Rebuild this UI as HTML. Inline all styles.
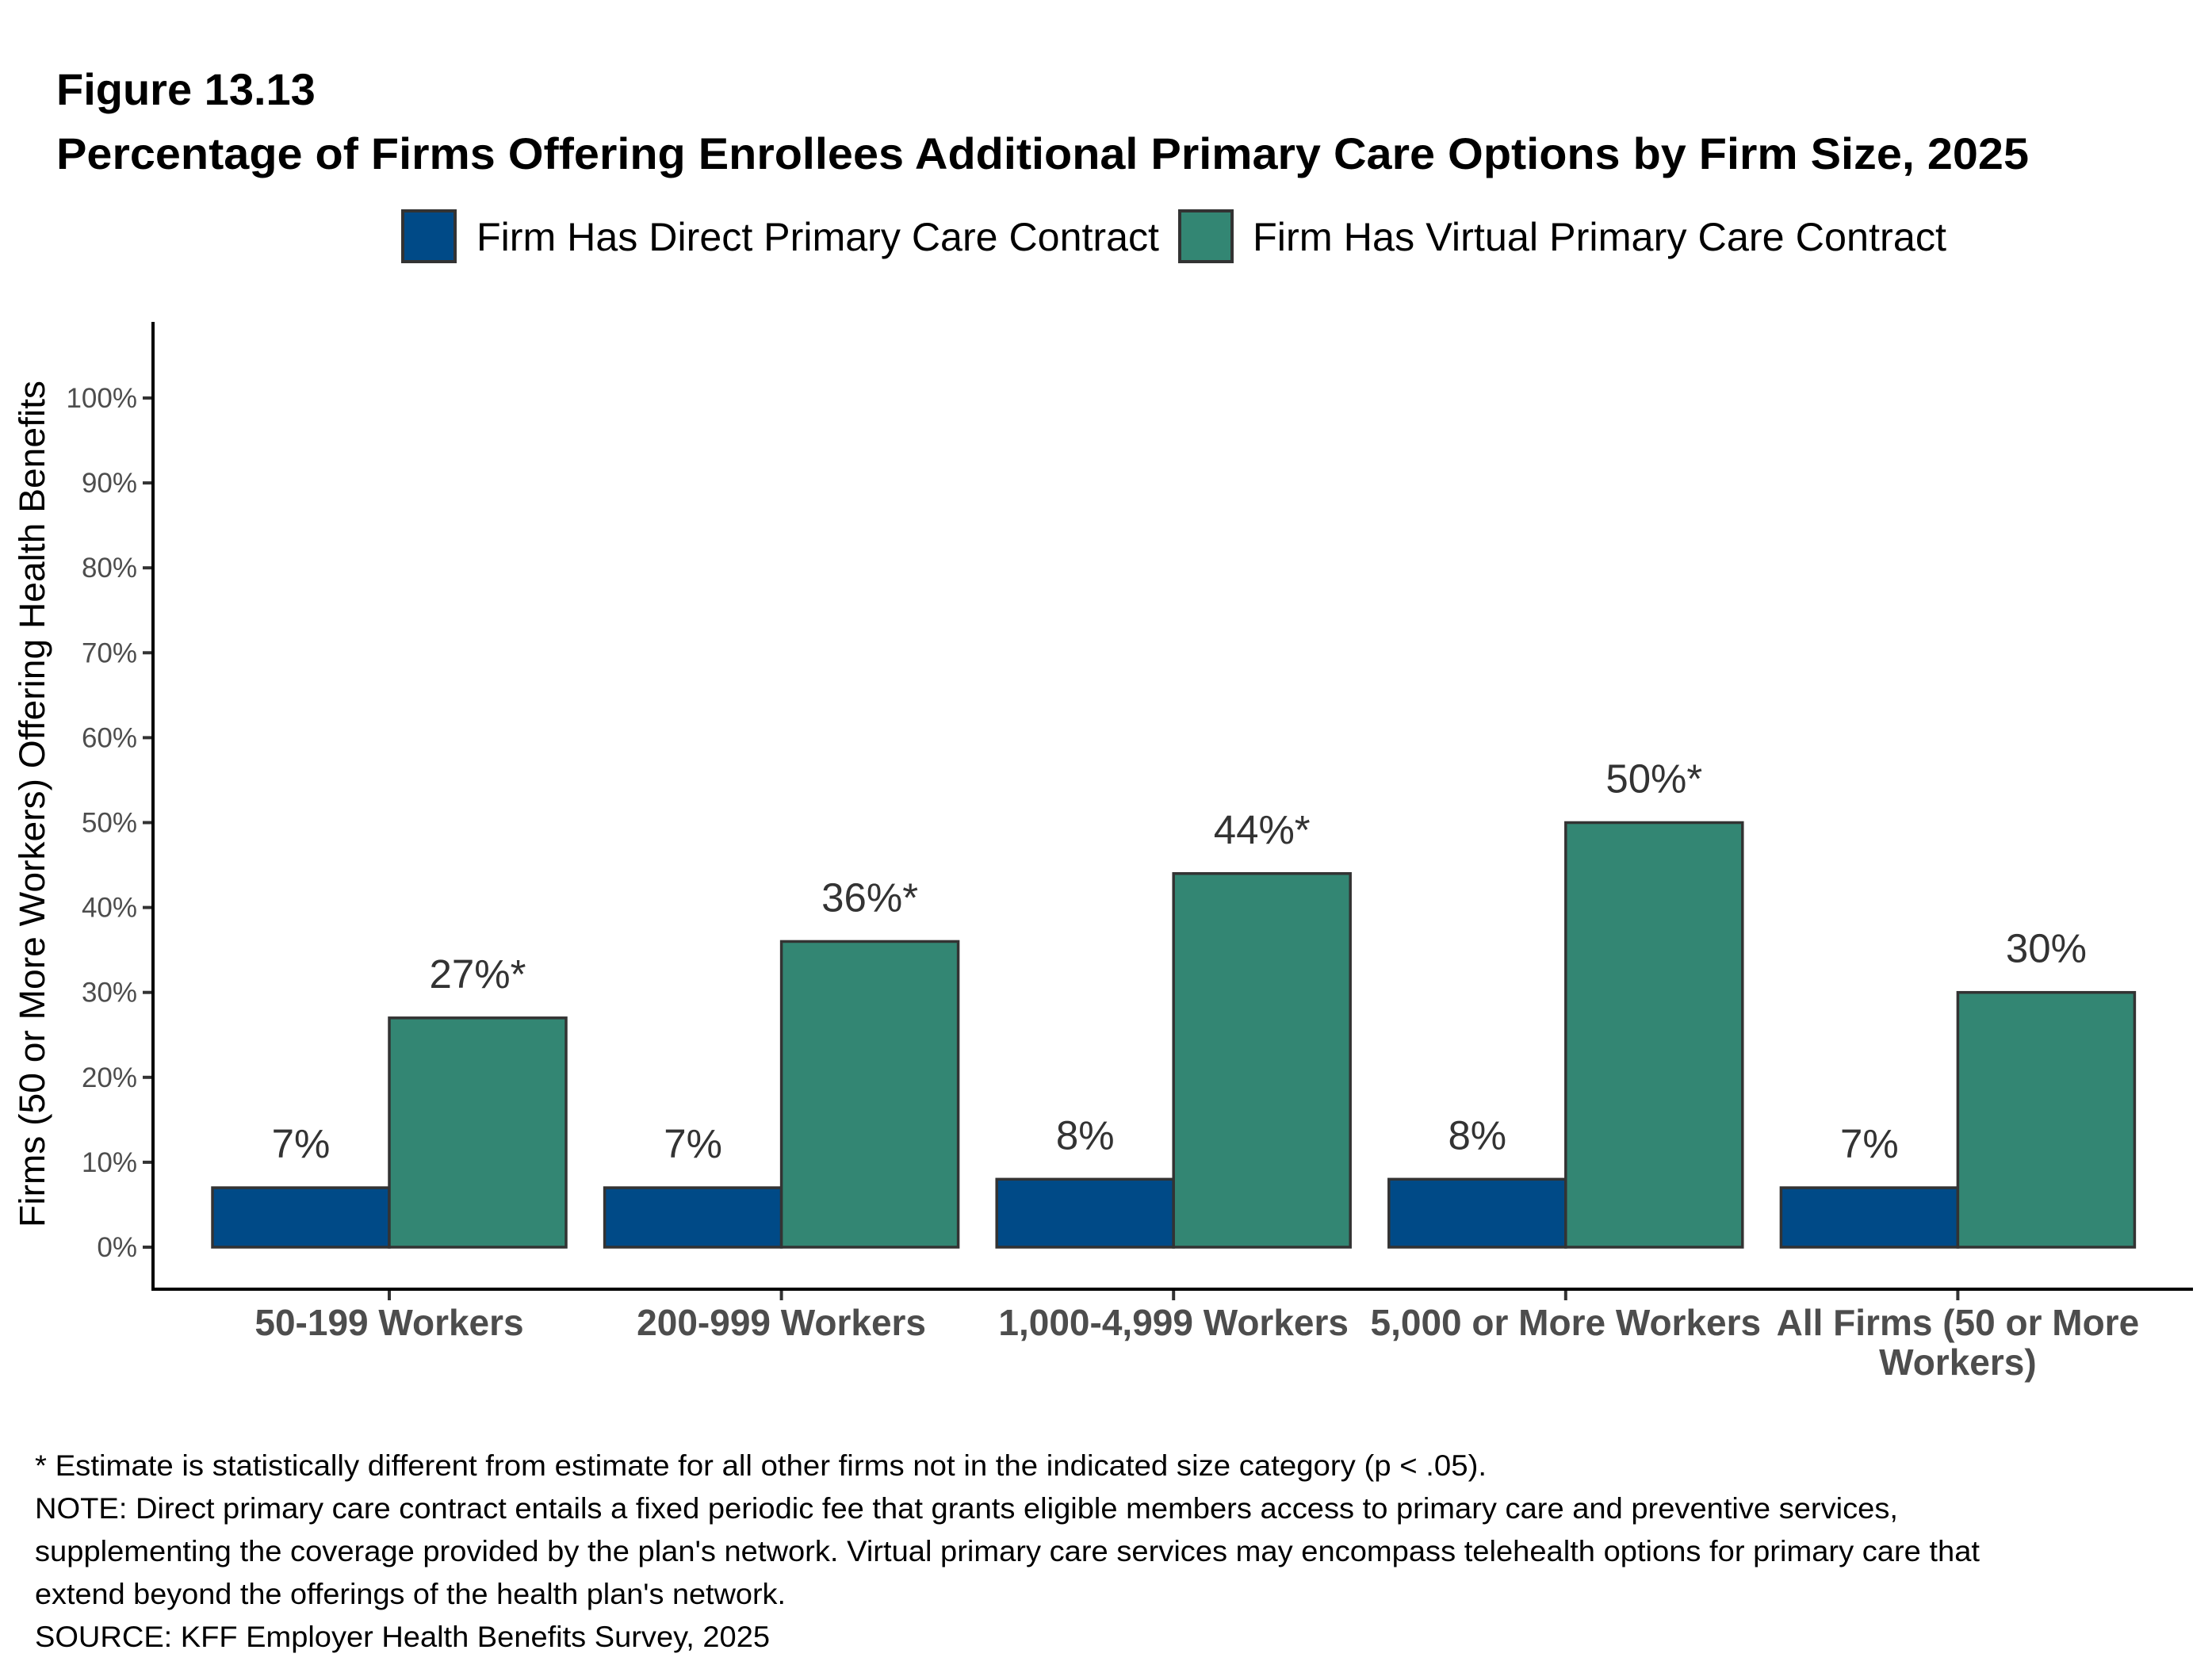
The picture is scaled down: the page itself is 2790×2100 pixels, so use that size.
<!DOCTYPE html>
<html><head><meta charset="utf-8"><style>
html,body{margin:0;padding:0;background:#fff;}
svg{display:block;font-family:"Liberation Sans",Arial,sans-serif;}
</style></head><body>
<svg id="chart" width="2790" height="2100" viewBox="0 0 2790 2100" xmlns="http://www.w3.org/2000/svg">
<text x="71" y="132" font-size="56" font-weight="bold" fill="#000">Figure 13.13</text>
<text x="71" y="213" font-size="56" font-weight="bold" fill="#000" textLength="2488" lengthAdjust="spacingAndGlyphs">Percentage of Firms Offering Enrollees Additional Primary Care Options by Firm Size, 2025</text>
<g>
<rect x="508" y="266" width="66" height="64" fill="#004A87" stroke="#333" stroke-width="4"/>
<text x="601" y="316" font-size="50" fill="#000" textLength="861" lengthAdjust="spacingAndGlyphs">Firm Has Direct Primary Care Contract</text>
<rect x="1488" y="266" width="66" height="64" fill="#338673" stroke="#333" stroke-width="4"/>
<text x="1580" y="316" font-size="50" fill="#000" textLength="875" lengthAdjust="spacingAndGlyphs">Firm Has Virtual Primary Care Contract</text>
</g>
<text transform="translate(56,1014) rotate(-90)" text-anchor="middle" font-size="45" fill="#000" textLength="1068" lengthAdjust="spacingAndGlyphs">Firms (50 or More Workers) Offering Health Benefits</text>
<g id="yaxis"></g>
<g id="bars"></g>
<g id="xaxis"></g>
<line x1="193" y1="406" x2="193" y2="1628" stroke="#000" stroke-width="4"/>
<line x1="191" y1="1626" x2="2766" y2="1626" stroke="#000" stroke-width="4"/>
<g font-size="37" fill="#000">
<text x="44" y="1861" textLength="1831" lengthAdjust="spacingAndGlyphs">* Estimate is statistically different from estimate for all other firms not in the indicated size category (p &lt; .05).</text>
<text x="44" y="1915" textLength="2350" lengthAdjust="spacingAndGlyphs">NOTE: Direct primary care contract entails a fixed periodic fee that grants eligible members access to primary care and preventive services,</text>
<text x="44" y="1969" textLength="2453" lengthAdjust="spacingAndGlyphs">supplementing the coverage provided by the plan's network. Virtual primary care services may encompass telehealth options for primary care that</text>
<text x="44" y="2023" textLength="947" lengthAdjust="spacingAndGlyphs">extend beyond the offerings of the health plan's network.</text>
<text x="44" y="2077" textLength="927" lengthAdjust="spacingAndGlyphs">SOURCE: KFF Employer Health Benefits Survey, 2025</text>
</g>
</svg>
<script>
const categories = [["50-199 Workers"],["200-999 Workers"],["1,000-4,999 Workers"],["5,000 or More Workers"],["All Firms (50 or More","Workers)"]];
const directValues = [7,7,8,8,7];
const virtualValues = [27,36,44,50,30];
const directLabels = ["7%","7%","8%","8%","7%"];
const virtualLabels = ["27%*","36%*","44%*","50%*","30%"];
const yTicks = [0,10,20,30,40,50,60,70,80,90,100];

const NS = "http://www.w3.org/2000/svg";
const y0 = 1573, y100 = 502;
function yScale(v){ return y0 + (y100 - y0) * v / 100; }
const firstCenter = 491, step = 494.6, barW = 223;
function xCenter(i){ return firstCenter + i * step; }
function mk(tag, attrs){ const e = document.createElementNS(NS, tag); for (const k in attrs) e.setAttribute(k, attrs[k]); return e; }

const yaxis = document.getElementById('yaxis');
yTicks.forEach(t => {
  const y = yScale(t);
  const tk = mk('line', {x1:180, y1:y, x2:193, y2:y, stroke:'#333', 'stroke-width':4});
  
  
  yaxis.appendChild(tk);
  const lb = mk('text', {x:173, y:y+12, 'text-anchor':'end', 'font-size':35, fill:'#4d4d4d'});
  lb.textContent = t + '%';
  
  
  yaxis.appendChild(lb);
});

const bars = document.getElementById('bars');
const xaxis = document.getElementById('xaxis');
categories.forEach((cat, i) => {
  const c = xCenter(i);
  const series = [[directValues[i], directLabels[i], '#004A87', c - barW, 'direct'], [virtualValues[i], virtualLabels[i], '#338673', c, 'virtual']];
  series.forEach(s => {
    const yt = yScale(s[0]);
    const r = mk('rect', {x:s[3], y:yt, width:barW, height:y0 - yt, fill:s[2], stroke:'#333', 'stroke-width':3.5});
    
    
    bars.appendChild(r);
    const t = mk('text', {x:s[3] + barW/2, y:yt - 38, 'text-anchor':'middle', 'font-size':51, fill:'#333'});
    t.textContent = s[1];
    
    
    bars.appendChild(t);
  });
  const tk = mk('line', {x1:c, y1:1626, x2:c, y2:1640, stroke:'#333', 'stroke-width':4});
  
  
  xaxis.appendChild(tk);
  cat.forEach((line, j) => {
    const t = mk('text', {x:c, y:1684 + j*50, 'text-anchor':'middle', 'font-size':46, 'font-weight':'bold', fill:'#4d4d4d'});
    t.textContent = line;
    
    
    xaxis.appendChild(t);
  });
});
</script>
</body></html>
